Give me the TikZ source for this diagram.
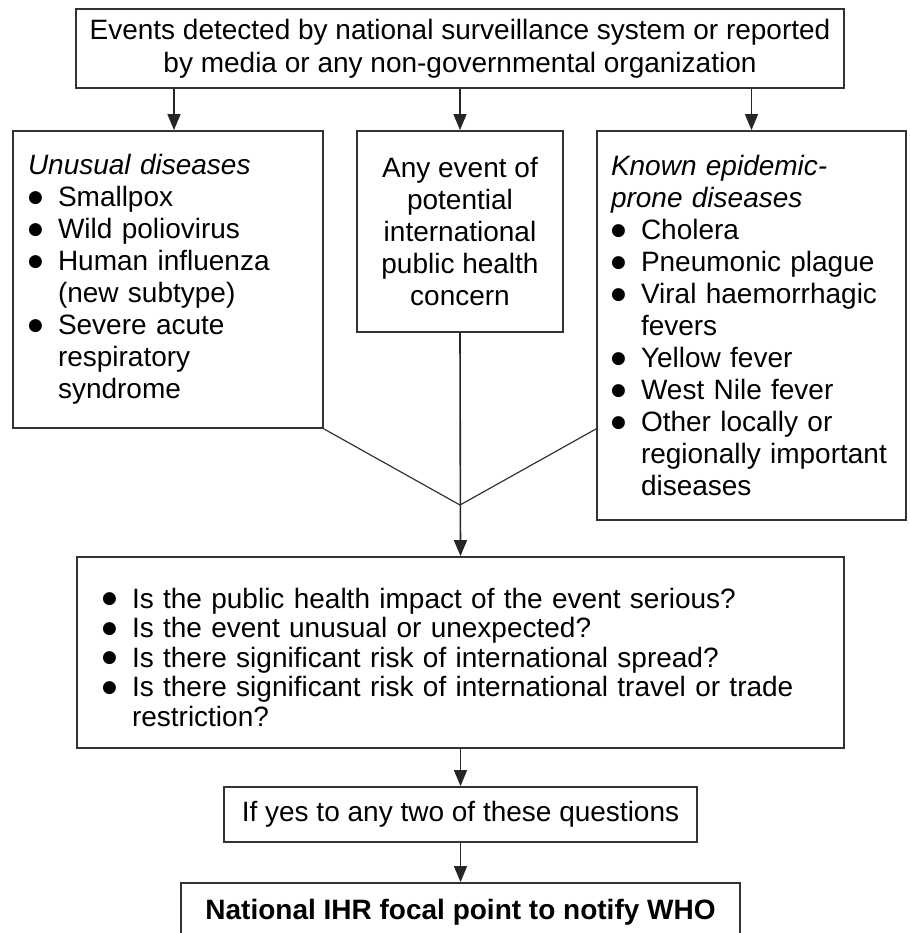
\documentclass[tikz,border=0pt]{standalone}
\usepackage{fontspec}
\setmainfont{Liberation Sans}
\newfontfamily\bulfont{DejaVu Sans}
\usepackage{tikz}
\usetikzlibrary{arrows.meta}

% one bulleted disease or question, later lines hang under the text
\newcommand{\dis}[1]{\par\noindent\makebox[15pt][l]{\raisebox{2.2pt}{\bulfont\fontsize{8.5pt}{8.5pt}\selectfont ●}}#1\hangindent=15pt\hangafter=1\par}

\begin{document}
\begin{tikzpicture}[x=0.5pt,y=-0.5pt,
  every node/.style={rectangle, draw=black!80, line width=0.9pt, inner ysep=0pt,
    font=\fontsize{14pt}{16pt}\selectfont},
  arr/.style={draw=black!85, line width=0.8pt, -{Triangle[length=8pt,width=6.5pt]}},
  lin/.style={draw=black!80, line width=0.6pt}]
\useasboundingbox (0,0) rectangle (910,933);
% Boxes
\node[minimum width=384pt, minimum height=39.5pt, align=center,
  font=\fontsize{14pt}{16.5pt}\selectfont] (events) at (460,48.5)
  {Events detected by national surveillance system or reported\\
   by media or any non-governmental organization};
\node[minimum width=155pt, minimum height=148.5pt, text width=140pt,
  inner xsep=7.5pt, align=left] (unusual) at (168,279.5)
  {\textit{Unusual diseases}\dis{Smallpox}\dis{Wild poliovirus}%
   \dis{Human influenza\newline (new subtype)}%
   \dis{Severe acute\newline respiratory\newline syndrome}};
\node[minimum width=103pt, minimum height=100.5pt, align=center] (anyevent) at (460,231.5)
  {Any event of\\ potential\\ international\\ public health\\ concern};
\node[minimum width=154.5pt, minimum height=194.5pt, text width=140.5pt,
  inner xsep=7pt, align=left] (known) at (751.5,325.5)
  {\textit{Known epidemic-\newline prone diseases}\dis{Cholera}\dis{Pneumonic plague}%
   \dis{Viral haemorrhagic\newline fevers}\dis{Yellow fever}\dis{West Nile fever}%
   \dis{Other locally or\newline regionally important\newline diseases}};
\node[minimum width=383.5pt, minimum height=95.5pt, text width=358.5pt,
  inner xsep=12.5pt, align=left, font=\fontsize{14pt}{14.75pt}\selectfont] (questions) at (460.5,652.5)
  {\dis{Is the public health impact of the event serious?}%
   \dis{Is the event unusual or unexpected?}%
   \dis{Is there significant risk of international spread?}%
   \dis{Is there significant risk of international travel or trade\newline restriction?}};
\node[minimum width=236.5pt, minimum height=27.5pt] (twoyes) at (460.5,814.5)
  {If yes to any two of these questions};
\node[minimum width=279.5pt, minimum height=29pt,
  font=\fontsize{14pt}{16pt}\selectfont\bfseries] (notify) at (460.5,912)
  {National IHR focal point to notify WHO};
% Connectors
\coordinate (merge) at (460,505);
\draw[arr] ([xshift=3pt]unusual.north |- events.south) -- ([xshift=3pt]unusual.north);
\draw[arr] (anyevent.north |- events.south) -- (anyevent.north);
\draw[arr] (known.north |- events.south) -- (known.north);
\draw[lin] (unusual.south east) -- (merge) -- (known.west |- unusual.south);
\draw[arr] (anyevent.south) -- (questions.north);
\draw[arr] (questions.south) -- (twoyes.north);
\draw[arr] (twoyes.south) -- (notify.north);
\end{tikzpicture}
\end{document}
